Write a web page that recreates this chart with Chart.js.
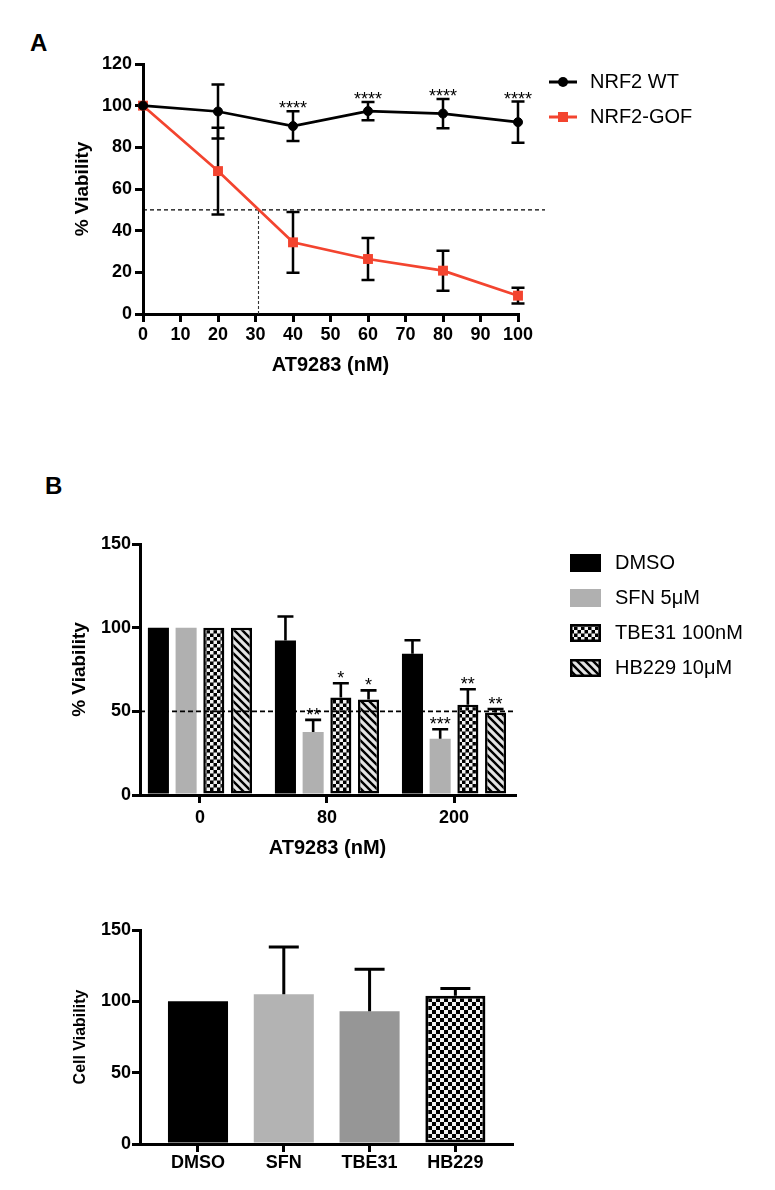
<!DOCTYPE html>
<html>
<head>
<meta charset="utf-8">
<script src="https://cdn.jsdelivr.net/npm/chart.js@4.4.0/dist/chart.umd.min.js"></script>
<style>
  body { margin: 0; background: #fff; }
  #page { position: relative; width: 775px; height: 1190px; }
  canvas { position: absolute; left: 0; }
  .panel { position: absolute; font: bold 24px "Liberation Sans", Arial, sans-serif; line-height: 24px; color: #000; }
</style>
</head>
<body>
<div id="page">
  <div class="panel" style="left:30px;top:31px">A</div>
  <div class="panel" style="left:45px;top:474px">B</div>
  <canvas id="chartA" width="775" height="400" style="top:0"></canvas>
  <canvas id="chartB" width="775" height="440" style="top:420px"></canvas>
  <canvas id="chartC" width="775" height="320" style="top:870px"></canvas>
</div>
<script>
// ---- Panel A data ----
const doses = [0, 20, 40, 60, 80, 100];
const wtMean = [100, 97.2, 90.2, 97.4, 96.2, 92.1];
const wtSd = [0, 13, 7.1, 4.4, 7, 9.9];
const gofMean = [100, 68.6, 34.4, 26.4, 20.8, 8.8];
const gofSd = [0, 20.8, 14.6, 10.1, 9.6, 3.8];
const wtStars = ['', '', '****', '****', '****', '****'];
const ic50Level = 50;
const ic50Dose = 30.8;

// ---- Panel B data ----
const bDoses = ['0', '80', '200'];
const bNames = ['DMSO', 'SFN 5μM', 'TBE31 100nM', 'HB229 10μM'];
const bDmso = [100, 92.3, 84.4];
const bDmsoErr = [0, 14.4, 8.1];
const bSfn = [100, 37.6, 33.6];
const bSfnErr = [0, 7.3, 5.7];
const bTbe = [100, 58.3, 53.9];
const bTbeErr = [0, 8.5, 9.3];
const bHb = [100, 57.1, 49.3];
const bHbErr = [0, 5.4, 2];
const bSfnStars = ['', '**', '***'];
const bTbeStars = ['', '*', '**'];
const bHbStars = ['', '*', '**'];

// ---- Panel C data ----
const cNames = ['DMSO', 'SFN', 'TBE31', 'HB229'];
const cMean = [100, 105, 93, 104];
const cErr = [0, 33, 29.5, 5];

Chart.defaults.font.family = '"Liberation Sans", Arial, sans-serif';
Chart.defaults.color = '#000';

const RED = '#f3442f';
const tickFont = { size: 18, weight: 'bold' };

function checker(cell) {
  const c = document.createElement('canvas');
  c.width = c.height = cell * 2;
  const g = c.getContext('2d');
  g.fillStyle = '#000'; g.fillRect(0, 0, cell * 2, cell * 2);
  g.fillStyle = '#f2f2f2';
  g.fillRect(0, 0, cell, cell); g.fillRect(cell, cell, cell, cell);
  return g.createPattern(c, 'repeat');
}
function stripes() {
  const s = 8, c = document.createElement('canvas');
  c.width = c.height = s;
  const g = c.getContext('2d');
  g.fillStyle = '#e4e4e4'; g.fillRect(0, 0, s, s);
  g.strokeStyle = '#000'; g.lineWidth = 2.4;
  g.beginPath();
  g.moveTo(-2, -2); g.lineTo(s + 2, s + 2);
  g.moveTo(-2, s - 2); g.lineTo(2, s + 2);
  g.moveTo(s - 2, -2); g.lineTo(s + 2, 2);
  g.stroke();
  return g.createPattern(c, 'repeat');
}
const checkB = checker(3.5);
const checkC = checker(4);
const stripeB = stripes();

function axisX(extra) {
  return Object.assign({
    border: { color: '#000', width: 3 },
    grid: { drawOnChartArea: false, color: '#000', lineWidth: 3, tickLength: 8 },
    ticks: { font: tickFont, color: '#000' }
  }, extra);
}

function upErrors(chart, errs, lw, cap) {
  const ctx = chart.ctx, y = chart.scales.y;
  ctx.save();
  ctx.strokeStyle = '#000'; ctx.lineWidth = lw;
  errs.forEach((err, di) => {
    chart.getDatasetMeta(di).data.forEach((bar, i) => {
      if (!err[i]) return;
      const v = chart.data.datasets[di].data[i].y;
      const top = y.getPixelForValue(v + err[i]);
      ctx.beginPath();
      ctx.moveTo(bar.x, bar.y); ctx.lineTo(bar.x, top);
      ctx.moveTo(bar.x - cap, top); ctx.lineTo(bar.x + cap, top);
      ctx.stroke();
    });
  });
  ctx.restore();
}

function drawStars(ctx, x, topPx, txt, gap) {
  ctx.save();
  ctx.font = '18px "Liberation Sans", Arial, sans-serif';
  ctx.fillStyle = '#000';
  ctx.textAlign = 'center';
  ctx.textBaseline = 'alphabetic';
  ctx.fillText(txt, x, topPx - gap + 10);
  ctx.restore();
}

// ================= Chart A =================
const pluginA = {
  id: 'panelA',
  beforeDatasetsDraw(chart) {
    const ctx = chart.ctx, x = chart.scales.x, y = chart.scales.y;
    // reference lines
    ctx.save();
    ctx.strokeStyle = '#000'; ctx.lineWidth = 1.3;
    ctx.setLineDash([4, 3]);
    const y50 = y.getPixelForValue(ic50Level);
    ctx.beginPath(); ctx.moveTo(x.getPixelForValue(0), y50); ctx.lineTo(545, y50); ctx.stroke();
    ctx.strokeStyle = '#333'; ctx.lineWidth = 1.1; ctx.setLineDash([3, 2]);
    const xi = x.getPixelForValue(ic50Dose);
    ctx.beginPath(); ctx.moveTo(xi, y.getPixelForValue(0)); ctx.lineTo(xi, y50); ctx.stroke();
    ctx.restore();
    // error bars
    ctx.save();
    ctx.strokeStyle = '#000'; ctx.lineWidth = 2.5;
    [wtSd, gofSd].forEach((sd, di) => {
      chart.getDatasetMeta(di).data.forEach((pt, i) => {
        if (!sd[i]) return;
        const m = chart.data.datasets[di].data[i].y;
        const t = y.getPixelForValue(m + sd[i]), b = y.getPixelForValue(m - sd[i]);
        ctx.beginPath();
        ctx.moveTo(pt.x, t); ctx.lineTo(pt.x, b);
        ctx.moveTo(pt.x - 6.5, t); ctx.lineTo(pt.x + 6.5, t);
        ctx.moveTo(pt.x - 6.5, b); ctx.lineTo(pt.x + 6.5, b);
        ctx.stroke();
      });
    });
    ctx.restore();
  },
  afterDatasetsDraw(chart) {
    const ctx = chart.ctx, y = chart.scales.y;
    chart.getDatasetMeta(0).data.forEach((pt, i) => {
      if (wtStars[i]) drawStars(ctx, pt.x, y.getPixelForValue(wtMean[i] + wtSd[i]), wtStars[i], 7);
    });
    // legend
    const rows = [
      { label: 'NRF2 WT', color: '#000', style: 'circle' },
      { label: 'NRF2-GOF', color: RED, style: 'rect' }
    ];
    ctx.save();
    rows.forEach((r, k) => {
      const ry = 82 + k * 35;
      ctx.strokeStyle = r.color; ctx.fillStyle = r.color; ctx.lineWidth = 3;
      ctx.beginPath(); ctx.moveTo(549, ry); ctx.lineTo(577, ry); ctx.stroke();
      if (r.style === 'circle') { ctx.beginPath(); ctx.arc(563, ry, 5, 0, Math.PI * 2); ctx.fill(); }
      else ctx.fillRect(558, ry - 5, 10, 10);
      ctx.fillStyle = '#000';
      ctx.font = '20px "Liberation Sans", Arial, sans-serif';
      ctx.textBaseline = 'middle'; ctx.textAlign = 'left';
      ctx.fillText(r.label, 590, ry);
    });
    ctx.restore();
  }
};

new Chart(document.getElementById('chartA'), {
  type: 'line',
  data: {
    datasets: [
      {
        label: 'NRF2 WT',
        data: doses.map((d, i) => ({ x: d, y: wtMean[i] })),
        borderColor: '#000', backgroundColor: '#000', borderWidth: 2.7,
        pointStyle: 'circle', pointRadius: 4.5, pointBorderWidth: 1, tension: 0, clip: false
      },
      {
        label: 'NRF2-GOF',
        data: doses.map((d, i) => ({ x: d, y: gofMean[i] })),
        borderColor: RED, backgroundColor: RED, borderWidth: 2.7,
        pointStyle: 'rect', pointRadius: 7, pointBorderWidth: 0, tension: 0, clip: false
      }
    ]
  },
  options: {
    responsive: false, animation: false,
    layout: { padding: { top: 64, left: 0, right: 257, bottom: 0 } },
    plugins: { legend: { display: false }, tooltip: { enabled: false } },
    scales: {
      x: axisX({
        type: 'linear', min: 0, max: 100,
        ticks: { font: tickFont, color: '#000', stepSize: 10, padding: 2 },
        title: { display: true, text: 'AT9283 (nM)', color: '#000', font: { size: 20, weight: 'bold' }, padding: { top: 0, bottom: 23 } },
        afterFit: s => { s.height = 86; }
      }),
      y: axisX({
        min: 0, max: 120,
        ticks: { font: tickFont, color: '#000', stepSize: 20, padding: 3 },
        title: { display: true, text: '% Viability', color: '#000', font: { size: 19, weight: 'bold' }, padding: { top: 71.6, bottom: 0 } },
        afterFit: s => { s.width = 143; }
      })
    }
  },
  plugins: [pluginA]
});

// ================= Chart B =================
const bFills = ['#000', '#b0b0b0', checkB, stripeB];
const bBorders = [0, 0, 2.5, 2.5];
const bSeries = [bDmso, bSfn, bTbe, bHb];
const bErrs = [bDmsoErr, bSfnErr, bTbeErr, bHbErr];
const bStars = [null, bSfnStars, bTbeStars, bHbStars];

const pluginB = {
  id: 'panelB',
  afterDatasetsDraw(chart) {
    const ctx = chart.ctx, y = chart.scales.y, a = chart.chartArea;
    upErrors(chart, bErrs, 2.6, 8);
    bStars.forEach((st, di) => {
      if (!st) return;
      chart.getDatasetMeta(di).data.forEach((bar, i) => {
        if (st[i]) drawStars(ctx, bar.x, y.getPixelForValue(bSeries[di][i] + bErrs[di][i]), st[i], 9);
      });
    });
    ctx.save();
    ctx.strokeStyle = '#000'; ctx.lineWidth = 1.6; ctx.setLineDash([5, 3]);
    const y50 = y.getPixelForValue(50);
    ctx.beginPath(); ctx.moveTo(a.left, y50); ctx.lineTo(a.right, y50); ctx.stroke();
    ctx.restore();
    // legend
    ctx.save();
    bNames.forEach((name, k) => {
      const ry = 143 + k * 35;
      ctx.fillStyle = bFills[k];
      ctx.fillRect(570, ry - 9, 31, 18);
      if (bBorders[k]) { ctx.strokeStyle = '#000'; ctx.lineWidth = 2.5; ctx.strokeRect(571.25, ry - 7.75, 28.5, 15.5); }
      ctx.fillStyle = '#000';
      ctx.font = '20px "Liberation Sans", Arial, sans-serif';
      ctx.textBaseline = 'middle'; ctx.textAlign = 'left';
      ctx.fillText(name, 615, ry);
    });
    ctx.restore();
  }
};

new Chart(document.getElementById('chartB'), {
  type: 'bar',
  data: {
    datasets: bSeries.map((vals, k) => ({
      label: bNames[k],
      data: vals.map((v, i) => ({ x: i, y: v })),
      backgroundColor: bFills[k],
      borderColor: '#000',
      borderWidth: bBorders[k],
      borderSkipped: false,
      categoryPercentage: 0.872,
      barPercentage: 0.76
    }))
  },
  options: {
    responsive: false, animation: false,
    layout: { padding: { top: 124, left: 0, right: 260, bottom: 0 } },
    plugins: { legend: { display: false }, tooltip: { enabled: false } },
    scales: {
      x: axisX({
        type: 'linear', min: -0.472, max: 2.48, offset: false,
        grid: { drawOnChartArea: false, color: '#000', lineWidth: 3, tickLength: 8, offset: false },
        ticks: { font: tickFont, color: '#000', stepSize: 1, includeBounds: false, padding: 4, callback: v => bDoses[v] ?? '' },
        title: { display: true, text: 'AT9283 (nM)', color: '#000', font: { size: 20, weight: 'bold' }, padding: { top: 0, bottom: 0 } },
        afterFit: s => { s.height = 65; }
      }),
      y: axisX({
        min: 0, max: 150,
        ticks: { font: tickFont, color: '#000', stepSize: 50, padding: 1 },
        title: { display: true, text: '% Viability', color: '#000', font: { size: 19, weight: 'bold' }, padding: { top: 68.6, bottom: 0 } },
        afterFit: s => { s.width = 140; }
      })
    }
  },
  plugins: [pluginB]
});

// ================= Chart C =================
const cFills = ['#000', '#b3b3b3', '#969696', checkC];
const cBorders = [0, 0, 0, 3];

new Chart(document.getElementById('chartC'), {
  type: 'bar',
  data: {
    datasets: [{
      data: cMean.map((v, i) => ({ x: i, y: v })),
      backgroundColor: cFills,
      borderColor: '#000',
      borderWidth: cBorders,
      borderSkipped: false,
      categoryPercentage: 1,
      barPercentage: 0.7
    }]
  },
  options: {
    responsive: false, animation: false,
    layout: { padding: { top: 60, left: 0, right: 263, bottom: 0 } },
    plugins: { legend: { display: false }, tooltip: { enabled: false } },
    scales: {
      x: axisX({
        type: 'linear', min: -0.676, max: 3.66, offset: false,
        grid: { drawOnChartArea: false, color: '#000', lineWidth: 3, tickLength: 8, offset: false },
        ticks: { font: tickFont, color: '#000', stepSize: 1, includeBounds: false, padding: 0, callback: v => cNames[v] ?? '' },
        afterFit: s => { s.height = 46; }
      }),
      y: axisX({
        min: 0, max: 150,
        ticks: { font: tickFont, color: '#000', stepSize: 50, padding: 1 },
        title: { display: true, text: 'Cell Viability', color: '#000', font: { size: 16, weight: 'bold' }, padding: { top: 71.4, bottom: 0 } },
        afterFit: s => { s.width = 140; }
      })
    }
  },
  plugins: [{
    id: 'panelC',
    afterDatasetsDraw(chart) { upErrors(chart, [cErr], 3, 15); }
  }]
});
</script>
</body>
</html>
